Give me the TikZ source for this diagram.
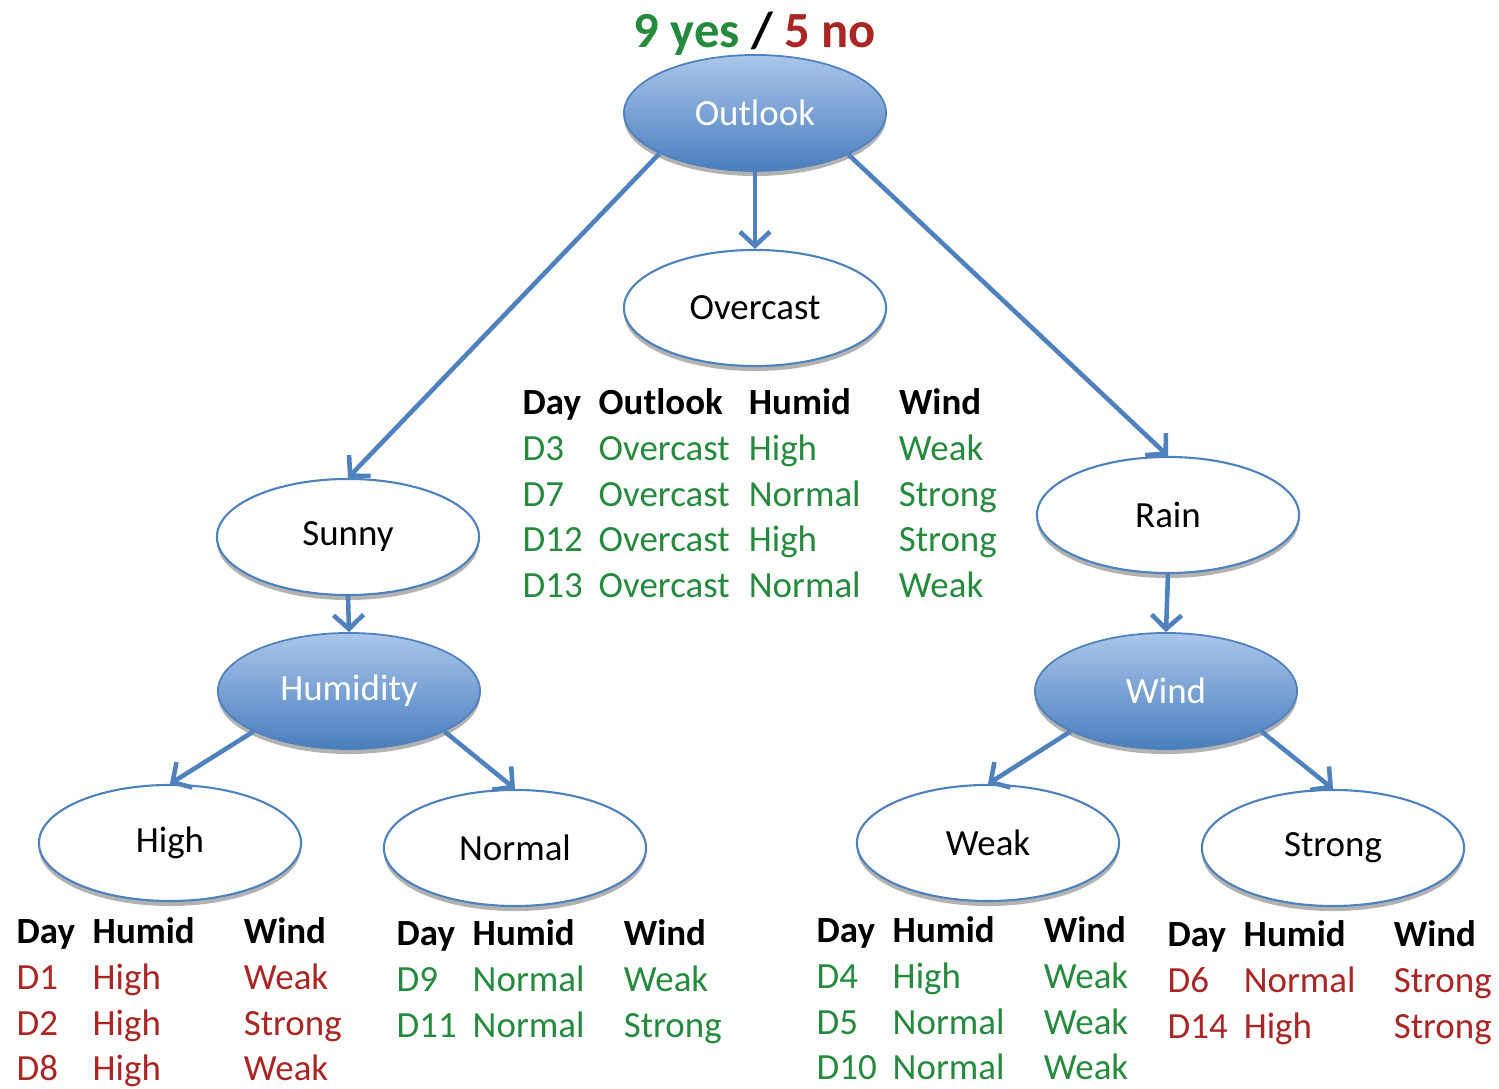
\documentclass[tikz,border=0pt]{standalone}
\usepackage{fontspec}
\setmainfont{Carlito}
\usetikzlibrary{shapes.geometric,shadows,arrows.meta}

\definecolor{yesgreen}{RGB}{38,138,62}
\definecolor{nored}{RGB}{168,38,36}
\definecolor{lineblue}{RGB}{79,129,189}
\definecolor{splittop}{RGB}{170,198,234}
\definecolor{splitbot}{RGB}{74,126,190}

\newcommand\gr{\leavevmode\color{yesgreen}}
\newcommand\rd{\leavevmode\color{nored}}

\tikzset{
  attr/.style={ellipse, draw=lineblue, line width=0.5pt, top color=splittop, bottom color=splitbot,
    text=white, minimum width=2.62cm, minimum height=1.16cm, inner sep=0pt,
    font=\fontsize{10.5}{12}\selectfont,
    drop shadow={shadow xshift=0pt, shadow yshift=-0.05cm, fill=black, opacity=0.3}},
  value/.style={ellipse, draw=lineblue, line width=0.6pt, fill=white, text=black,
    minimum width=2.62cm, minimum height=1.16cm, inner sep=0pt,
    font=\fontsize{10.5}{12}\selectfont,
    drop shadow={shadow xshift=0pt, shadow yshift=-0.05cm, fill=black, opacity=0.3}},
  branch/.style={draw=lineblue, line width=1.3pt, -{Straight Barb[length=0.14cm,width=0.3cm]}},
  days/.style={anchor=base west, inner sep=0pt, font=\fontsize{10.5}{12.95}\selectfont}
}

\begin{document}
\begin{tikzpicture}[x=0.01cm, y=-0.01cm]
  \useasboundingbox (0,0) rectangle (1499,1089);

  % root
  \node[anchor=base, font=\fontsize{14.4}{16}\selectfont\bfseries] (count) at (755,48)
    {{\color{yesgreen}9 yes} / {\color{nored}5 no}};
  \node[attr] (outlook) at (755,113) {Outlook};

  % outlook values
  \node[value] (sunny) at (348,537) {Sunny};
  \node[value] (overcast) at (755,308) {Overcast};
  \node[value] (rain) at (1168,515) {Rain};

  % second level
  \node[attr] (humidity) at (349,691) {Humidity};
  \node[attr] (wind) at (1166,691) {Wind};

  \node[value] (high) at (170,843) {High};
  \node[value] (normal) at (515,848) {Normal};
  \node[value] (weak) at (988,843) {Weak};
  \node[value] (strong) at (1333,848) {Strong};

  \draw[branch] (outlook.203) -- (sunny.north);
  \draw[branch] (outlook.south) -- (overcast.north);
  \draw[branch] (outlook.336) -- (rain.north);
  \draw[branch] (sunny.south) -- (humidity.north);
  \draw[branch] (rain.south) -- (wind.north);
  \draw[branch] (humidity.203) -- (high.north);
  \draw[branch] (humidity.337) -- (normal.north);
  \draw[branch] (wind.203) -- (weak.north);
  \draw[branch] (wind.337) -- (strong.north);

  % tables
  \node[days] (overcastdays) at (522,415) {%
    \begin{tabular}[t]{@{}p{0.76cm}@{}p{1.50cm}@{}p{1.50cm}@{}l@{}}
      \textbf{Day} & \textbf{Outlook} & \textbf{Humid} & \textbf{Wind}\\
      \gr D3 & \gr Overcast & \gr High & \gr Weak\\
      \gr D7 & \gr Overcast & \gr Normal & \gr Strong\\
      \gr D12 & \gr Overcast & \gr High & \gr Strong\\
      \gr D13 & \gr Overcast & \gr Normal & \gr Weak
    \end{tabular}};

  \node[days] (highdays) at (16,944) {%
    \begin{tabular}[t]{@{}p{0.76cm}@{}p{1.51cm}@{}l@{}}
      \textbf{Day} & \textbf{Humid} & \textbf{Wind}\\
      \rd D1 & \rd High & \rd Weak\\
      \rd D2 & \rd High & \rd Strong\\
      \rd D8 & \rd High & \rd Weak
    \end{tabular}};

  \node[days] (normaldays) at (396,946) {%
    \begin{tabular}[t]{@{}p{0.76cm}@{}p{1.51cm}@{}l@{}}
      \textbf{Day} & \textbf{Humid} & \textbf{Wind}\\
      \gr D9 & \gr Normal & \gr Weak\\
      \gr D11 & \gr Normal & \gr Strong
    \end{tabular}};

  \node[days] (weakdays) at (816,943) {%
    \begin{tabular}[t]{@{}p{0.76cm}@{}p{1.51cm}@{}l@{}}
      \textbf{Day} & \textbf{Humid} & \textbf{Wind}\\
      \gr D4 & \gr High & \gr Weak\\
      \gr D5 & \gr Normal & \gr Weak\\
      \gr D10 & \gr Normal & \gr Weak
    \end{tabular}};

  \node[days] (strongdays) at (1167,947) {%
    \begin{tabular}[t]{@{}p{0.76cm}@{}p{1.50cm}@{}l@{}}
      \textbf{Day} & \textbf{Humid} & \textbf{Wind}\\
      \rd D6 & \rd Normal & \rd Strong\\
      \rd D14 & \rd High & \rd Strong
    \end{tabular}};
\end{tikzpicture}
\end{document}
